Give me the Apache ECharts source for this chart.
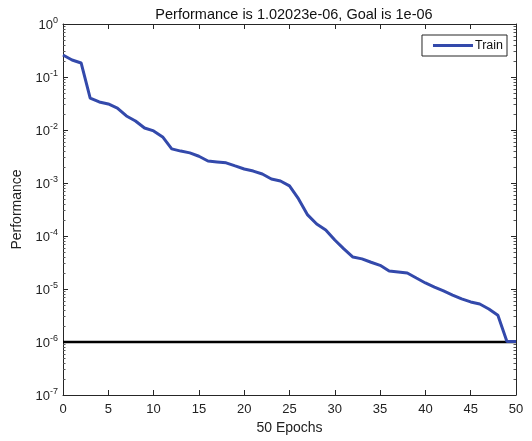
<!DOCTYPE html>
<html>
<head>
<meta charset="utf-8">
<script src="https://cdn.jsdelivr.net/npm/echarts@6/dist/echarts.min.js"></script>
<style>html,body{margin:0;padding:0;background:#fff;}#c{width:532px;height:441px;}</style>
</head>
<body>
<div id="c"></div>
<script>
const epochs = [0,1,2,3,4,5,6,7,8,9,10,11,12,13,14,15,16,17,18,19,20,21,22,23,24,25,26,27,28,29,30,31,32,33,34,35,36,37,38,39,40,41,42,43,44,45,46,47,48,49,50];
const trainPerf = [0.26,0.209,0.184,0.040,0.0338,0.031,0.026,0.0184,0.0148,0.0109,0.0096,0.0074,0.0044,0.0040,0.0037,0.0032,0.0026,0.0025,0.0024,0.0021,0.00184,0.00168,0.00148,0.00119,0.00109,0.00088,0.00050,0.00025,0.000168,0.00013,8.4e-5,5.7e-5,4.0e-5,3.7e-5,3.2e-5,2.8e-5,2.19e-5,2.1e-5,2.0e-5,1.61e-5,1.30e-5,1.09e-5,9.2e-6,7.7e-6,6.5e-6,5.7e-6,5.2e-6,4.2e-6,3.2e-6,1.02023e-6,1.02023e-6];
const goal = 1e-6;
const yMin = 1e-7;
const yMax = 1;
const xMin = 0;
const xMax = 50;
const xStep = 5;
const titleText = 'Performance is 1.02023e-06, Goal is 1e-06';
const xName = '50 Epochs';
const yName = 'Performance';

const axisColor = '#262626';
const font = 'Liberation Sans, Arial, sans-serif';

const chart = echarts.init(document.getElementById('c'), null, {renderer: 'canvas'});

function yAxisBase(pos, extra) {
  return Object.assign({
    type: 'log', logBase: 10, min: yMin, max: yMax, position: pos,
    axisLine: {show: true, onZero: false, lineStyle: {color: axisColor, width: 1}},
    axisTick: {show: true, inside: true, length: 5, lineStyle: {color: axisColor}},
    minorTick: {show: true, splitNumber: 9, length: 2.5, lineStyle: {color: '#555'}},
    splitLine: {show: false},
    axisLabel: {show: false}
  }, extra || {});
}
function xAxisBase(pos, extra) {
  return Object.assign({
    type: 'value', min: xMin, max: xMax, interval: xStep, position: pos,
    axisLine: {show: true, onZero: false, lineStyle: {color: axisColor}},
    axisTick: {show: true, inside: true, length: 5, lineStyle: {color: axisColor}},
    axisLabel: {show: false},
    splitLine: {show: false}
  }, extra || {});
}

chart.setOption({
  backgroundColor: '#fff',
  animation: false,
  title: {
    text: titleText, left: 289, textAlign: 'center', top: 2,
    textStyle: {fontFamily: font, fontSize: 14.5, fontWeight: 'normal', color: '#111'}
  },
  legend: {
    data: ['Train'], right: 25, top: 35, orient: 'vertical',
    itemWidth: 40, itemHeight: 3, itemGap: 0,
    padding: [4, 4, 4, 11],
    borderColor: axisColor, borderWidth: 1, backgroundColor: '#fff',
    textStyle: {fontFamily: font, fontSize: 12.5, color: '#111', padding: [0, 0, 0, -3]},
    icon: 'rect'
  },
  grid: {left: 63, right: 16, top: 24, bottom: 46, containLabel: false},
  xAxis: [
    xAxisBase('bottom', {
      name: xName, nameLocation: 'middle', nameGap: 26,
      nameTextStyle: {fontFamily: font, fontSize: 14, color: '#222'},
      axisLabel: {show: true, fontFamily: font, fontSize: 13, color: '#222', margin: 8}
    }),
    xAxisBase('top')
  ],
  yAxis: [
    yAxisBase('left', {
      name: yName, nameLocation: 'middle', nameGap: 36, nameRotate: 90,
      nameTextStyle: {fontFamily: font, fontSize: 14, color: '#222'},
      axisLabel: {
        show: true, margin: 5,
        formatter: function (v) {
          const e = Math.round(Math.log10(v));
          return '{b|10}{s|' + e + '}';
        },
        rich: {
          b: {fontFamily: font, fontSize: 13, color: '#222', verticalAlign: 'bottom'},
          s: {fontFamily: font, fontSize: 9, color: '#222', verticalAlign: 'top', padding: [0, 0, 7, 0]}
        }
      }
    }),
    yAxisBase('right')
  ],
  series: [
    {
      name: 'Goal', type: 'line', xAxisIndex: 0, yAxisIndex: 0,
      data: [[epochs[0], goal], [epochs[epochs.length - 1], goal]],
      symbol: 'none', lineStyle: {color: '#000', width: 2.5}, z: 2
    },
    {
      name: 'Train', type: 'line', xAxisIndex: 0, yAxisIndex: 0,
      data: epochs.map((e, i) => [e, trainPerf[i]]),
      symbol: 'none', itemStyle: {color: '#3349ab'}, lineStyle: {color: '#3349ab', width: 3}, z: 3
    }
  ]
});
</script>
</body>
</html>
